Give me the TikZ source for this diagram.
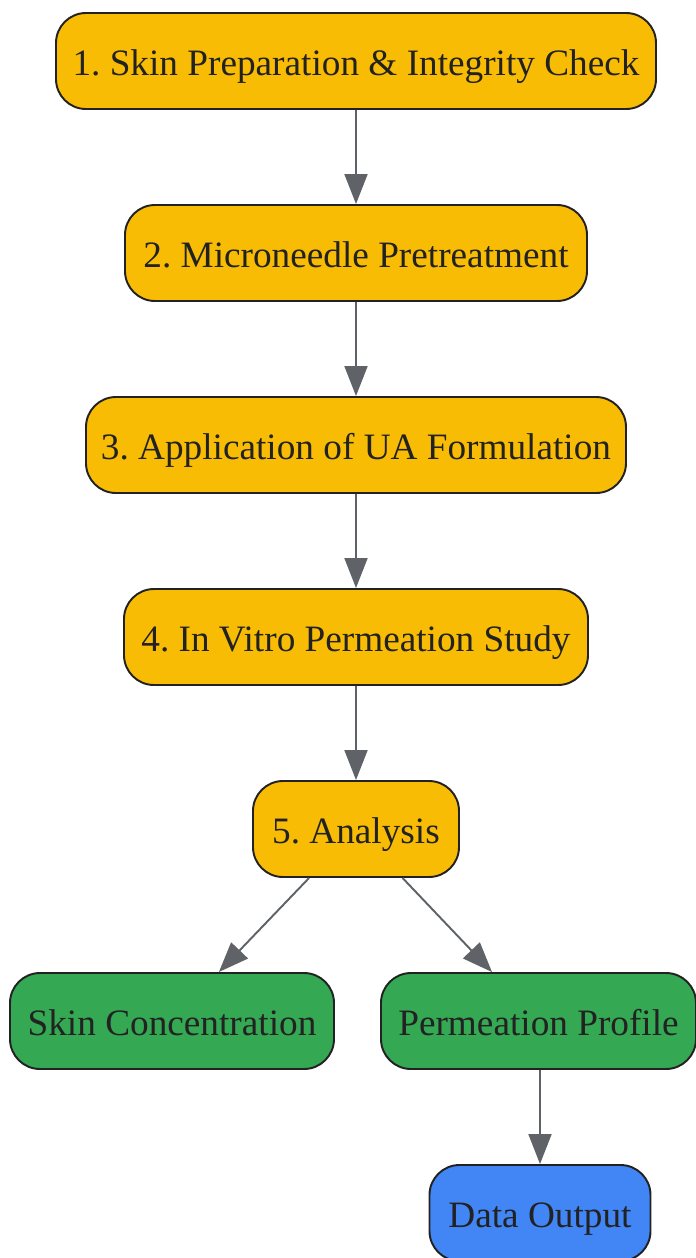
\documentclass[tikz,border=0pt]{standalone}
\usepackage{fontspec}
\setmainfont{Liberation Serif}
\usepackage{tikz}
\usetikzlibrary{arrows.meta}

\definecolor{stepyellow}{HTML}{F9BC05}
\definecolor{outgreen}{HTML}{34A853}
\definecolor{datablue}{HTML}{4285F4}
\definecolor{edgegray}{HTML}{5F6368}
\definecolor{inkdark}{HTML}{222222}

\tikzset{
  box/.style={draw=inkdark, line width=1.1pt, rounded corners=0.6cm,
    minimum height=1.92cm, text=inkdark, inner sep=0pt,
    text height=20pt, text depth=4pt,
    font=\fontsize{21.2}{25}\selectfont\frenchspacing},
  stagebox/.style={box, fill=stepyellow},
  resultbox/.style={box, fill=outgreen},
  outbox/.style={box, fill=datablue},
  flow/.style={-{Triangle[length=0.6cm,width=0.46cm]}, line width=1.1pt, edgegray}
}

\begin{document}
\begin{tikzpicture}
\useasboundingbox (0,0) rectangle (13.92,-25.16);

\node[stagebox, minimum width=12.0cm] (prep) at (7.12,-1.22) {1. Skin Preparation \& Integrity Check};
\node[stagebox, minimum width=9.24cm] (needle) at (7.12,-5.06) {2. Microneedle Pretreatment};
\node[stagebox, minimum width=10.8cm] (apply) at (7.12,-8.90) {3. Application of UA Formulation};
\node[stagebox, minimum width=9.28cm] (perm) at (7.12,-12.74) {4. In Vitro Permeation Study};
\node[stagebox, minimum width=4.12cm] (analysis) at (7.12,-16.58) {5. Analysis};

\node[resultbox, minimum width=6.48cm] (skinconc) at (3.44,-20.42) {Skin Concentration};
\node[resultbox, minimum width=6.3cm] (profile) at (10.77,-20.42) {Permeation Profile};
\node[outbox, minimum width=4.42cm] (dataout) at (10.80,-24.26) {Data Output};

\draw[flow] (prep) -- (needle);
\draw[flow] (needle) -- (apply);
\draw[flow] (apply) -- (perm);
\draw[flow] (perm) -- (analysis);
\draw[flow] (analysis) -- (skinconc);
\draw[flow] (analysis) -- (profile);
\draw[flow] (profile.south -| dataout.north) -- (dataout);
\end{tikzpicture}
\end{document}
